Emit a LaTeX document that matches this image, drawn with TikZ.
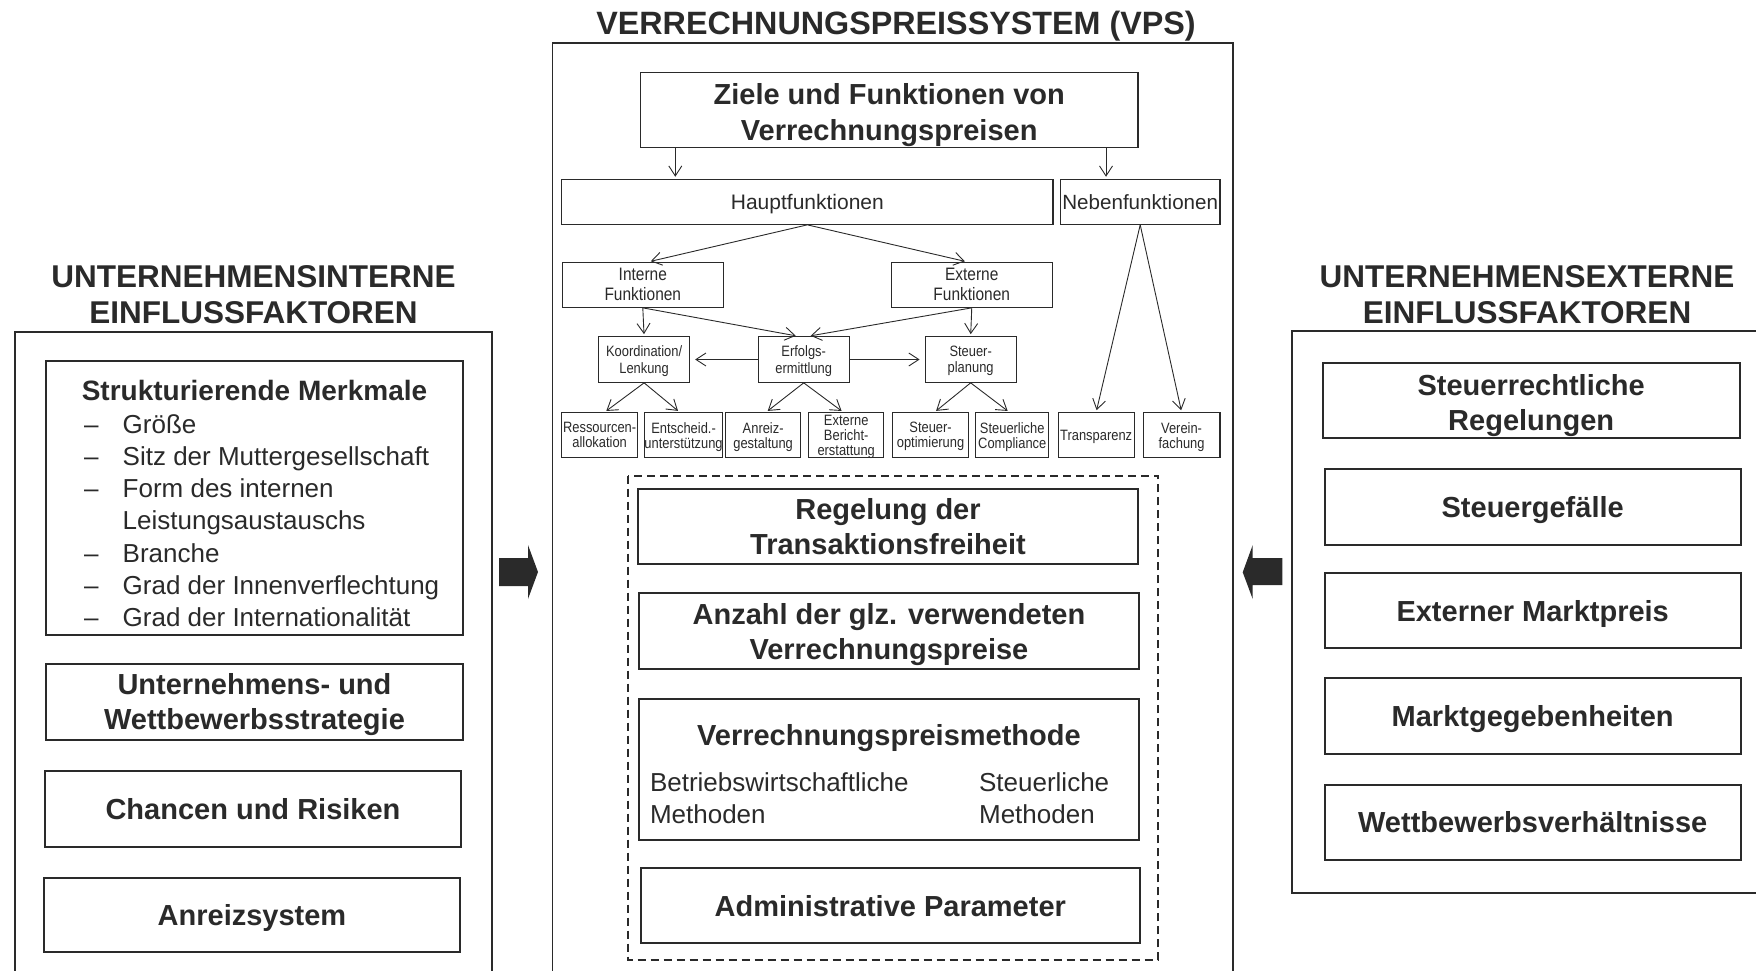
\documentclass[tikz,border=0pt]{standalone}
\usepackage{fontspec}
\setmainfont{Liberation Sans}
\newfontfamily\narrowsf[FakeStretch=0.86]{Liberation Sans}
\usetikzlibrary{arrows.meta}
\definecolor{ink}{HTML}{2A2A2A}

\begin{document}
\begin{tikzpicture}[x=1pt,y=-1pt,
  every node/.style={text=ink, inner sep=0pt},
  sz/.style 2 args={minimum width=#1pt, minimum height=#2pt},
  frame/.style={draw=ink, line width=1.8pt},
  bigbox/.style={draw=ink, line width=2pt, rectangle, align=center, text depth=0pt,
                 font=\fontsize{29}{35.5}\selectfont\bfseries},
  plainbox/.style={draw=ink, line width=1.1pt, rectangle, align=center, text depth=0pt},
  fone/.style={font=\fontsize{18}{20}\narrowsf},
  ftwo/.style={font=\fontsize{15}{16.5}\narrowsf},
  fthree/.style={font=\fontsize{15}{15}\narrowsf},
  heading/.style={align=center, anchor=base, font=\fontsize{31.5}{36}\selectfont\bfseries},
  listtext/.style={font=\fontsize{26}{32.3}\selectfont},
  arr/.style={draw=ink, line width=0.9pt,
              -{Straight Barb[length=10pt,width=13pt,line width=0.9pt]}, shorten >=2pt},
  harr/.style={arr, shorten >=5pt}
]
\useasboundingbox (0,0) rectangle (1756,971);
\clip (0,0) rectangle (1756,971);

% ---------------- left column: internal factors ----------------
% (the base anchor of a two-line node sits on its last line)
\node[heading] (headL) at (253.5,323) {UNTERNEHMENSINTERNE\\EINFLUSSFAKTOREN};
\draw[frame] (15.3,331.7) rectangle (491.8,1000);

\node[bigbox, sz={417}{274.3}] (struk) at (254.5,497.85) {};
\node[anchor=base, font=\fontsize{28}{34}\selectfont\bfseries] (struktitle) at (254.5,400) {Strukturierende Merkmale};
\node[anchor=base west, listtext] (merk) at (84,433) {%
  \begin{tabular}[t]{@{}p{38.5pt}@{}l@{}}
  –& Größe\\
  –& Sitz der Muttergesellschaft\\
  –& Form des internen\\
   & Leistungsaustauschs\\
  –& Branche\\
  –& Grad der Innenverflechtung\\
  –& Grad der Internationalität
  \end{tabular}};

\node[bigbox, sz={417}{76.2}] (uws) at (254.5,701.6) {Unternehmens- und\\Wettbewerbsstrategie};
\node[bigbox, sz={416}{76.3}] (chancen) at (253,808.85) {Chancen und Risiken};
\node[bigbox, sz={416}{74.5}] (anreizsys) at (252,914.75) {Anreizsystem};

% block arrow pointing into the central system
\fill[ink] (499,558) -- (528,558) -- (528,545) -- (538,572) -- (528,599)
  -- (528,586) -- (499,586) -- cycle;

% ---------------- right column: external factors ----------------
\node[heading] (headR) at (1527,323) {UNTERNEHMENSEXTERNE\\EINFLUSSFAKTOREN};
\draw[frame] (1292,331) rectangle (1775,892.6);

\node[bigbox, sz={416.7}{75}, text height=60pt] (srr) at (1531.2,400.8) {Steuerrechtliche\\Regelungen};
\node[bigbox, sz={416}{75.5}] (sgf) at (1532.7,507) {Steuergefälle};
\node[bigbox, sz={416}{75.6}] (emp) at (1532.7,610.6) {Externer Marktpreis};
\node[bigbox, sz={416}{75.5}] (mgh) at (1532.7,716) {Marktgegebenheiten};
\node[bigbox, sz={416}{75.2}] (wbv) at (1532.7,822.3) {Wettbewerbsverhältnisse};

% block arrow pointing into the central system
\fill[ink] (1282.3,558) -- (1252.7,558) -- (1252.7,545) -- (1242.7,572.3)
  -- (1252.7,599) -- (1252.7,585) -- (1282.3,585) -- cycle;

% ---------------- central column: transfer price system ----------------
\node[anchor=base, font=\fontsize{32.3}{36}\selectfont\bfseries] (headV) at (896,35) {VERRECHNUNGSPREISSYSTEM (VPS)};
\draw[frame] (552.5,42.7) rectangle (1233,1000);

\node[bigbox, line width=1.4pt, sz={497.6}{75}, text height=61pt,
      font=\fontsize{29}{36.5}\selectfont\bfseries] (ziele) at (889.2,110.2) {Ziele und Funktionen von\\Verrechnungspreisen};

\node[plainbox, sz={491.3}{45}, font=\fontsize{21}{24}\selectfont] (haupt) at (807.35,201.8) {Hauptfunktionen};
\node[plainbox, sz={159.6}{45}, font=\fontsize{20.6}{24}\selectfont] (neben) at (1140.2,201.8) {Nebenfunktionen};

\node[plainbox, sz={161.4}{45}, fone] (intf) at (642.8,284.8) {Interne\\Funktionen};
\node[plainbox, sz={160.9}{45}, fone] (extf) at (971.75,284.8) {Externe\\Funktionen};

\node[plainbox, sz={91}{45.6}, ftwo] (koord) at (644.1,359.5) {Koordination/\\Lenkung};
\node[plainbox, sz={91}{45.6}, ftwo] (erf) at (803.7,359.5) {Erfolgs-\\ermittlung};
\node[plainbox, sz={91}{45.6}, ftwo] (stp) at (970.65,359.5) {Steuer-\\planung};

\node[plainbox, sz={75.9}{45}, fthree] (res) at (599.65,435.2) {Ressourcen-\\allokation};
\node[plainbox, sz={78.1}{45}, fthree] (ent) at (683.55,435.2) {Entscheid.-\\unterstützung};
\node[plainbox, sz={75.1}{45}, fthree] (anr) at (763.15,435.2) {Anreiz-\\gestaltung};
\node[plainbox, sz={75.4}{45}, fthree] (ber) at (846.2,435.2) {Externe\\Bericht-\\erstattung};
\node[plainbox, sz={75.9}{45}, fthree] (sto) at (930.55,435.2) {Steuer-\\optimierung};
\node[plainbox, sz={72.9}{45}, fthree] (com) at (1012.25,435.2) {Steuerliche\\Compliance};
\node[plainbox, sz={75.9}{45}, fthree] (tra) at (1096.15,435.2) {Transparenz};
\node[plainbox, sz={76.8}{45}, fthree] (ver) at (1181.6,435.2) {Verein-\\fachung};

% connectors of the function tree
\coordinate (zl) at (675.3,0);
\coordinate (zr) at (1106,0);
\draw[arr] (ziele.south -| zl) -- (haupt.north -| zl);
\draw[arr] (ziele.south -| zr) -- (neben.north -| zr);
\draw[arr] (haupt.south) -- ([xshift=6pt]intf.north);
\draw[arr] (haupt.south) -- ([xshift=-5pt]extf.north);
\draw[arr] (intf.south) -- (koord.north);
\draw[arr] (intf.south) -- ([xshift=-6pt]erf.north);
\draw[arr] (extf.south) -- ([xshift=5pt]erf.north);
\draw[arr] (extf.south) -- (stp.north);
\draw[harr] (erf.west) -- (koord.east);
\draw[harr] (erf.east) -- (stp.west);
\draw[arr] (koord.south) -- ([xshift=5pt]res.north);
\draw[arr] (koord.south) -- ([xshift=-4pt]ent.north);
\draw[arr] (erf.south) -- ([xshift=3pt]anr.north);
\draw[arr] (erf.south) -- ([xshift=-3pt]ber.north);
\draw[arr] (stp.south) -- ([xshift=4pt]sto.north);
\draw[arr] (stp.south) -- ([xshift=-3pt]com.north);
\draw[arr] (neben.south) -- (tra.north);
\draw[arr] (neben.south) -- (ver.north);

% parameters of the transfer price system
\draw[ink, line width=1.8pt, dash pattern=on 8pt off 5pt] (627.9,475.7) rectangle (1158,960);

\node[bigbox, sz={499.4}{75.3}] (reg) at (888,526.65) {Regelung der\\Transaktionsfreiheit};
\node[bigbox, sz={499.1}{76}] (anz) at (888.95,631.3) {Anzahl der glz. verwendeten\\Verrechnungspreise};
\node[bigbox, sz={499.1}{141}] (vpm) at (888.95,769.5) {};
\node[anchor=base, font=\fontsize{29}{34}\selectfont\bfseries] (vpmtitle) at (888.95,745) {Verrechnungspreismethode};
\node[anchor=base west, align=left, listtext] (bwm) at (649.8,823.3) {Betriebswirtschaftliche\\Methoden};
\node[anchor=base west, align=left, listtext] (stm) at (978.9,823.3) {Steuerliche\\Methoden};
\node[bigbox, sz={498.6}{75}] (adm) at (890.3,905.8) {Administrative Parameter};

\end{tikzpicture}
\end{document}
